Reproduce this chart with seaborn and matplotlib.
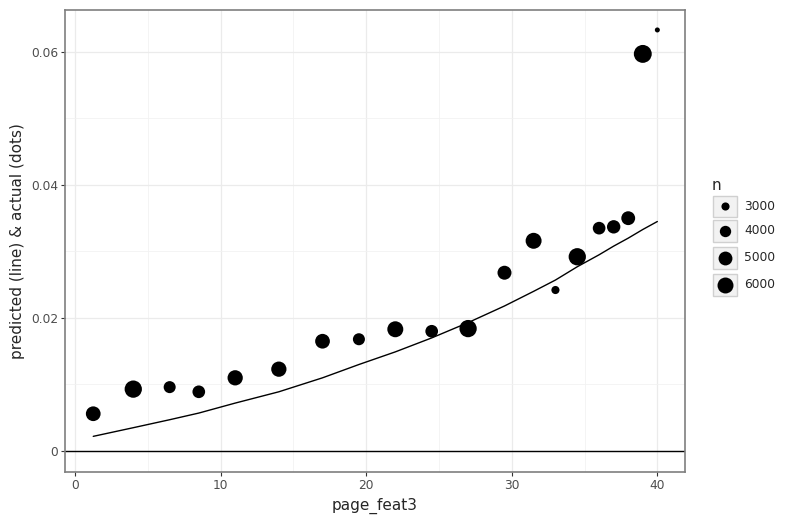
import numpy as np
import pandas as pd
import matplotlib
matplotlib.use('Agg')
import matplotlib.pyplot as plt
import matplotlib.ticker as mticker
from matplotlib.patches import Rectangle
import seaborn as sns

# --- data ---
page_feat3 = [1.25, 4, 6.5, 8.5, 11, 14, 17, 19.5, 22, 24.5,
              27, 29.5, 31.5, 33, 34.5, 36, 37, 38, 39, 40]
actual = [0.0056, 0.0093, 0.0096, 0.0089, 0.0110, 0.0123, 0.0165, 0.0168, 0.0183, 0.0180,
          0.0184, 0.0268, 0.0316, 0.0242, 0.0292, 0.0335, 0.0337, 0.0350, 0.0597, 0.0633]
n_obs = [5400, 6700, 4250, 4500, 5650, 5650, 5400, 4250, 6000, 4500,
         6700, 5050, 6000, 3000, 6700, 4500, 4800, 5000, 7050, 2350]
predicted = [0.0022, 0.0035, 0.0047, 0.0057, 0.0072, 0.0089, 0.0110, 0.0130, 0.0149, 0.0170,
             0.0193, 0.0218, 0.0240, 0.0257, 0.0277, 0.0295, 0.0308, 0.0320, 0.0333, 0.0345]
legend_n = [3000, 4000, 5000, 6000]

df = pd.DataFrame({'page_feat3': page_feat3, 'actual': actual,
                   'n': n_obs, 'predicted': predicted})

# size mapping (area linear in n)
n_lo, n_hi = 2300, 7100
s_lo, s_hi = 11.4, 168.0


def area(v):
    return s_lo + (v - n_lo) / (n_hi - n_lo) * (s_hi - s_lo)


sns.set_style('white')
plt.rcParams['font.family'] = ['DejaVu Sans']

W, H = 801, 524
fig = plt.figure(figsize=(W / 100, H / 100), dpi=100)
ax = fig.add_axes([65 / W, 52 / H, 620 / W, 462 / H])

ax.axhline(0, color='black', lw=1.0, zorder=2)
sns.lineplot(data=df, x='page_feat3', y='predicted', color='black', lw=1.0, ax=ax, zorder=3)
sns.scatterplot(data=df, x='page_feat3', y='actual', size='n', sizes=(s_lo, s_hi),
                size_norm=(n_lo, n_hi), color='black', linewidth=0, legend=False,
                ax=ax, zorder=4)

ax.set_xlim(-0.69, 41.9)
ax.set_ylim(-0.00316, 0.0663)
ax.xaxis.set_major_locator(mticker.MultipleLocator(10))
ax.xaxis.set_minor_locator(mticker.MultipleLocator(5))
ax.yaxis.set_major_locator(mticker.FixedLocator([0, 0.02, 0.04, 0.06]))
ax.yaxis.set_minor_locator(mticker.FixedLocator([0.01, 0.03, 0.05]))
ax.yaxis.set_major_formatter(mticker.FuncFormatter(lambda v, p: '0' if abs(v) < 1e-12 else f'{v:.2f}'))
ax.grid(which='major', color='#ebebeb', lw=0.9)
ax.grid(which='minor', color='#f2f2f2', lw=0.6)
ax.set_axisbelow(True)
ax.tick_params(which='major', length=3, width=0.8, color='#333333',
               labelsize=8.8, labelcolor='#4d4d4d', pad=2)
ax.tick_params(which='minor', length=0)
ax.tick_params(axis='x', bottom=True)
ax.tick_params(axis='y', left=True)
for sp in ax.spines.values():
    sp.set_color('#7f7f7f')
    sp.set_linewidth(1.2)
ax.set_xlabel('page_feat3', fontsize=11, labelpad=4)
ax.set_ylabel('predicted (line) & actual (dots)', fontsize=11, labelpad=4)

# --- legend drawn in pixel coordinates ---
lg = fig.add_axes([0, 0, 1, 1])
lg.set_xlim(0, W)
lg.set_ylim(H, 0)
lg.axis('off')
lg.patch.set_alpha(0)
lg.text(712, 186, 'n', fontsize=11, va='center', ha='left')
boxes = [(195.5, 21), (220, 21.5), (246.5, 22), (273.5, 22.5)]
for v, (top, h) in zip(legend_n, boxes):
    lg.add_patch(Rectangle((713, top), 24, h, facecolor='#f2f2f2', edgecolor='#d0d0d0', lw=1.0))
    cy = top + h / 2
    lg.scatter([725], [cy], s=area(v), color='black', linewidth=0, zorder=3)
    lg.text(744, cy, str(v), fontsize=8.8, va='center', ha='left')

fig.savefig('out.png', dpi=100)
